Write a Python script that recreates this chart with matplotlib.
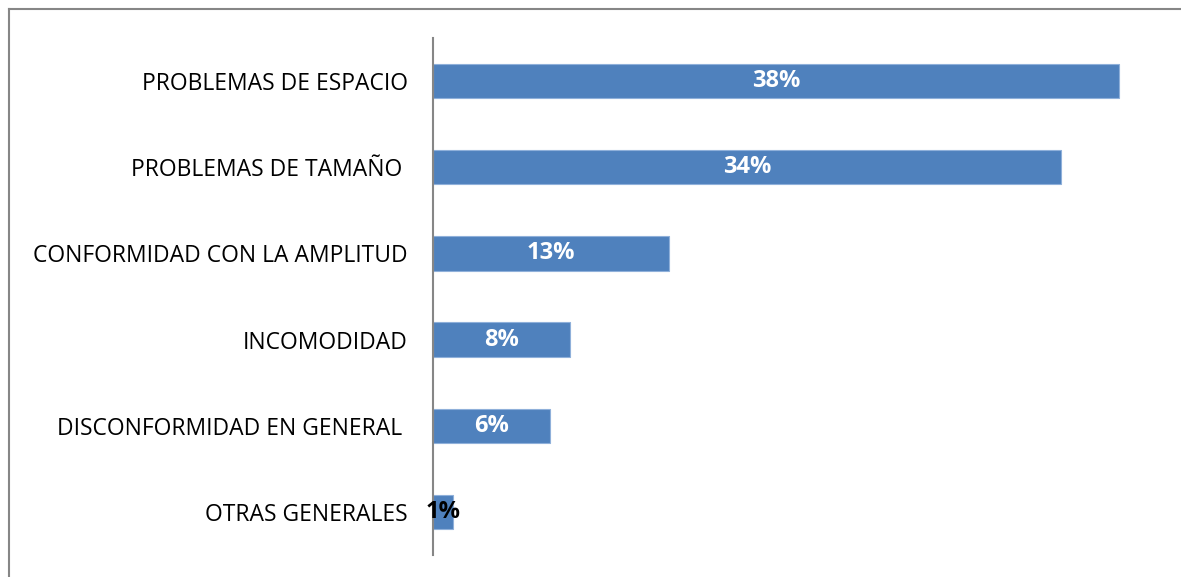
import matplotlib
matplotlib.use('Agg')
import matplotlib.pyplot as plt
from matplotlib.lines import Line2D

plt.rcParams['font.family'] = ['Open Sans', 'DejaVu Sans']

categories = ['PROBLEMAS DE ESPACIO', 'PROBLEMAS DE TAMAÑO ', 'CONFORMIDAD CON LA AMPLITUD',
              'INCOMODIDAD', 'DISCONFORMIDAD EN GENERAL ', 'OTRAS GENERALES']
values = [38.0, 34.8, 13.1, 7.6, 6.5, 1.1]
labels = ['38%', '34%', '13%', '8%', '6%', '1%']
label_colors = ['white', 'white', 'white', 'white', 'white', 'black']

W, H = 1181, 577
fig = plt.figure(figsize=(W / 100, H / 100), dpi=100)
ax = fig.add_axes([433 / W, 1 - 555 / H, (1155 - 433) / W, (555 - 38) / H])

ypos = list(range(len(categories)))
ax.barh(ypos, values, height=0.4, color='#4F81BD', edgecolor='#8FB0DA', linewidth=0.8)
for y, v, lab, c in zip(ypos, values, labels, label_colors):
    ax.text(v / 2, y, lab, ha='center', va='center', color=c,
            fontsize=17, fontweight='bold')

ax.set_xlim(0, 40)
ax.set_ylim(len(categories) - 0.5, -0.5)
ax.set_yticks(ypos)
ax.set_yticklabels(categories, fontsize=16.5)
ax.tick_params(axis='y', length=0, pad=18)
ax.set_xticks([])
for s in ['top', 'right', 'bottom']:
    ax.spines[s].set_visible(False)
ax.spines['left'].set_color('#868686')
ax.spines['left'].set_linewidth(1.5)

# outer frame (top and left only visible)
fig.add_artist(Line2D([9 / W, 9 / W], [0, 1 - 9 / H], color='#868686', lw=1.5))
fig.add_artist(Line2D([9 / W, 1], [1 - 9 / H, 1 - 9 / H], color='#868686', lw=1.5))

fig.savefig('out.png', dpi=100)
